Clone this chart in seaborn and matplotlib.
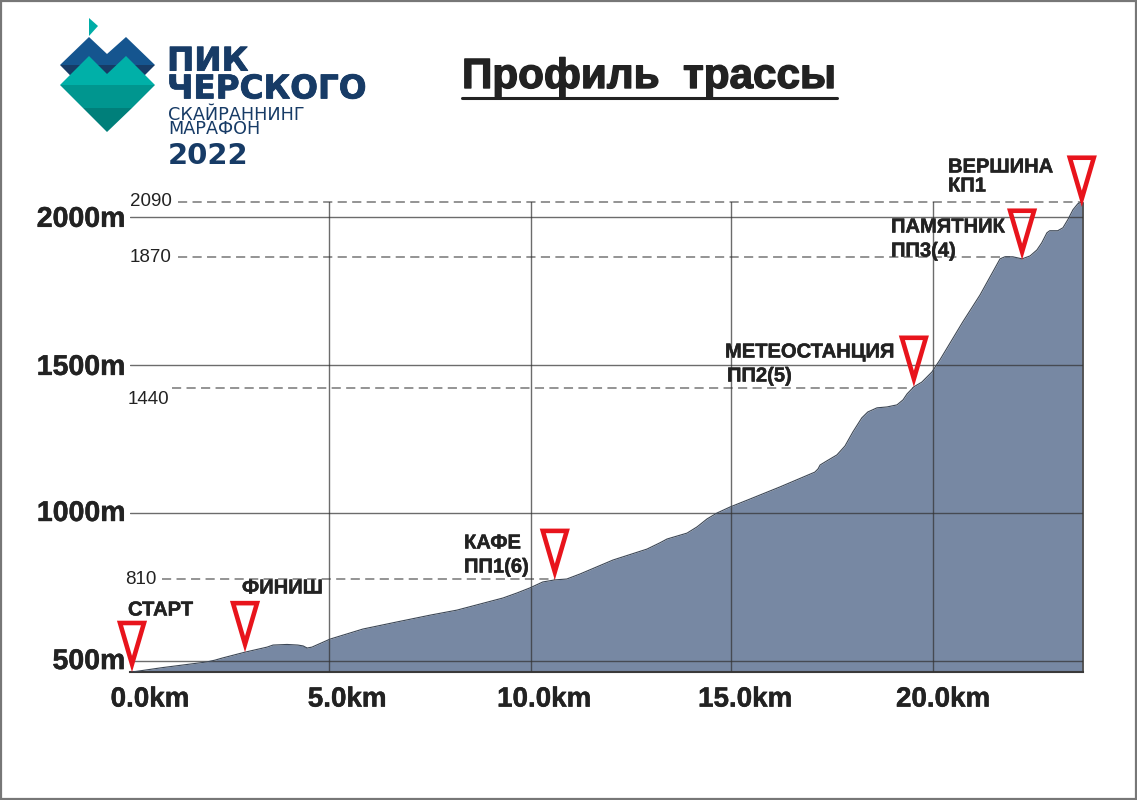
import numpy as np
import pandas as pd
import matplotlib
matplotlib.use("Agg")
import matplotlib.pyplot as plt
import matplotlib.patheffects as pe
import seaborn as sns
from matplotlib.path import Path
from matplotlib.patches import Polygon, Rectangle
from matplotlib.markers import MarkerStyle
from matplotlib.transforms import ScaledTranslation

# ==========================================
# DATA
# ==========================================
distance_km = [0, 0.77, 1.87, 2.07, 2.25, 2.82, 3.37, 3.52, 3.87, 4.14, 4.27, 4.37, 4.49, 4.94, 5.76, 6.61,
               7.44, 8.11, 9.26, 9.61, 9.93, 10.25, 10.55, 10.85, 11.18, 12.00, 12.85, 13.17, 13.35, 13.85,
               14.10, 14.35, 14.60, 14.92, 15.42, 16.17, 17.04, 17.12, 17.17, 17.34, 17.59, 17.79, 17.99,
               18.21, 18.36, 18.59, 18.84, 19.09, 19.24, 19.34, 19.51, 19.71, 19.96, 20.16, 20.73, 21.16,
               21.48, 21.66, 21.78, 21.98, 22.21, 22.41, 22.58, 22.70, 22.83, 22.90, 23.10, 23.23, 23.35,
               23.48, 23.60, 23.70]
elevation_m = [463, 478, 497, 503, 510, 530, 547, 554, 556, 554, 551, 544, 547, 574, 608, 632,
               655, 672, 713, 730, 747, 767, 774, 777, 794, 841, 878, 899, 912, 932,
               953, 980, 1000, 1020, 1047, 1088, 1138, 1149, 1162, 1176, 1196, 1226, 1274,
               1321, 1341, 1355, 1358, 1365, 1382, 1402, 1426, 1442, 1476, 1517, 1645, 1736,
               1814, 1858, 1865, 1865, 1858, 1868, 1888, 1912, 1946, 1953, 1953, 1963, 1990,
               2024, 2044, 2050]

x_ticks = [0, 4.92, 9.96, 14.95, 19.99]
x_labels = ["0.0km", "5.0km", "10.0km", "15.0km", "20.0km"]
x_label_shift_px = [18, 18, 13, 14, 10]
y_ticks = [500, 1000, 1500, 2000]
y_labels = ["500m", "1000m", "1500m", "2000m"]

# checkpoints (tip of the red triangles)
point_km = [0, 2.82, 10.55, 19.51, 22.21, 23.70]
point_m = [463, 530, 774, 1426, 1855, 2034]

# dashed levels, the printed number does not sit on the axis scale
level_m = [2050, 1865, 1422, 777]
level_from_km = [1.15, 1.15, 1.0, 0.75]
level_to_km = [23.7, 21.9, 19.5, 10.56]
level_labels = ["2090", "1870", "1440", "810"]
level_label_px = [(130, 201), (130, 257), (128, 400), (125, 580)]

place_labels = [("СТАРТ", 128, 610), ("ФИНИШ", 242, 588), ("КАФЕ", 464, 543), ("ПП1(6)", 464, 567),
                ("МЕТЕОСТАНЦИЯ", 725, 352), ("ПП2(5)", 727, 376), ("ПАМЯТНИК", 891, 227),
                ("ПП3(4)", 891, 251), ("ВЕРШИНА", 948, 167), ("КП1", 948, 186)]

W, H = 1137, 800
L, R, T, B = 130, 1083, 202, 672
heavy = [pe.withStroke(linewidth=0.35, foreground="#222222")]

# ==========================================
# CHART
# ==========================================
sns.set_theme(style="white")
plt.rcParams["font.family"] = ["Liberation Sans", "DejaVu Sans"]

fig = plt.figure(figsize=(W / 100, H / 100), dpi=100)
ax = fig.add_axes([L / W, 1 - B / H, (R - L) / W, (B - T) / H])
ax.set_xlim(-0.05, 23.73)
ax.set_ylim(463, 2050)

df = pd.DataFrame({"km": distance_km, "m": elevation_m})

for y, x0, x1 in zip(level_m, level_from_km, level_to_km):
    ax.plot([x0, x1], [y, y], color="#777777", lw=1.1, dashes=(6, 3.5), zorder=1, clip_on=False)

ax.fill_between(df["km"], df["m"], 463, color="#7788A3", lw=0, zorder=2)
sns.lineplot(data=df, x="km", y="m", color="#3c4756", lw=0.8, ax=ax, zorder=3, errorbar=None, sort=False)

ax.set_xticks(x_ticks)
ax.set_xticklabels(x_labels, fontsize=20, fontweight="bold", color="#222222", path_effects=heavy)
ax.set_yticks(y_ticks)
ax.set_yticklabels(y_labels, fontsize=20.5, fontweight="bold", color="#222222", path_effects=heavy)
ax.tick_params(axis="both", length=0)
ax.tick_params(axis="x", pad=10.5)
ax.tick_params(axis="y", pad=3.5)
ax.set_xlabel("")
ax.set_ylabel("")
ax.grid(True, color="#333333", alpha=0.72, lw=1)
ax.xaxis.get_gridlines()[0].set_visible(False)
ax.set_axisbelow(False)
for lab, dx in zip(ax.get_xticklabels(), x_label_shift_px):
    lab.set_transform(lab.get_transform() + ScaledTranslation(dx / 100, 0, fig.dpi_scale_trans))
for lab, dy in zip(ax.get_yticklabels(), [2, 2, 0, 0]):
    lab.set_transform(lab.get_transform() + ScaledTranslation(0, dy / 100, fig.dpi_scale_trans))

for side in ["top", "left"]:
    ax.spines[side].set_visible(False)
ax.spines["right"].set_color("#3a3a3a")
ax.spines["right"].set_bounds(463, 2047)
ax.spines["bottom"].set_color("#3a3a3a")
ax.spines["bottom"].set_linewidth(1.5)
ax.spines["right"].set_linewidth(1.2)

# tip of the marker sits on the data point, the miter adds about 8px below the outline
tri = Path([(0, 8), (-12, 49), (12, 49), (0, 8)], closed=True)
sns.scatterplot(x=point_km, y=point_m, marker=MarkerStyle(tri, joinstyle="miter"), s=4980, facecolor="none",
                edgecolor="#E8141C", linewidth=3.3, joinstyle="miter", ax=ax, zorder=6, clip_on=False, legend=False)

# ==========================================
# OVERLAY IN PIXELS: LOGO, TITLE, LABELS
# ==========================================
ov = fig.add_axes([0, 0, 1, 1], facecolor="none")
ov.set_xlim(0, W)
ov.set_ylim(H, 0)
ov.axis("off")

logo = [
    ([(89, 18), (98, 26), (89, 36)], "#00ADA7"),
    ([(60, 65), (155, 65), (107, 113)], "#173B66"),
    ([(60, 65), (89, 37), (107, 54), (126, 37), (155, 65)], "#15558F"),
    ([(60, 85), (89, 56), (107, 74), (126, 56), (155, 85)], "#00B0A8"),
    ([(60, 85), (155, 85), (132, 108), (83, 108)], "#00968F"),
    ([(83, 108), (132, 108), (107, 132)], "#007F7A"),
]
for pts, col in logo:
    ov.add_patch(Polygon(pts, closed=True, fc=col, ec="none"))

navy = "#173B66"
logo_bold = [pe.withStroke(linewidth=0.6, foreground=navy)]
ov.text(167, 75, "ПИК\nЧЕРСКОГО", fontsize=23.5, fontweight="bold", family="DejaVu Sans", color=navy,
        va="center", linespacing=0.8, path_effects=logo_bold)
ov.text(168, 122, "СКАЙРАННИНГ\nМАРАФОН", fontsize=12.7, family="DejaVu Sans", color=navy,
        va="center", linespacing=0.74)
ov.text(168, 156, "2022", fontsize=21, fontweight="bold", family="DejaVu Sans", color=navy, va="center")

ov.text(462, 77, "Профиль  трассы", fontsize=30.4, fontweight="bold", color="#222222", va="center",
        path_effects=[pe.withStroke(linewidth=1.0, foreground="#222222")])
ov.plot([462, 837], [98, 98], color="#222222", lw=2.2)

for txt, (x, y) in zip(level_labels, level_label_px):
    ov.text(x, y, txt, fontsize=13.5, color="#222222", va="center")
for txt, x, y in place_labels:
    ov.text(x, y, txt, fontsize=14.5, fontweight="bold", color="#222222", va="center", path_effects=heavy)

ov.add_patch(Rectangle((0.5, 0.5), W - 2, H - 2, fc="none", ec="#777777", lw=1.6))

fig.savefig("out.png", dpi=100)
